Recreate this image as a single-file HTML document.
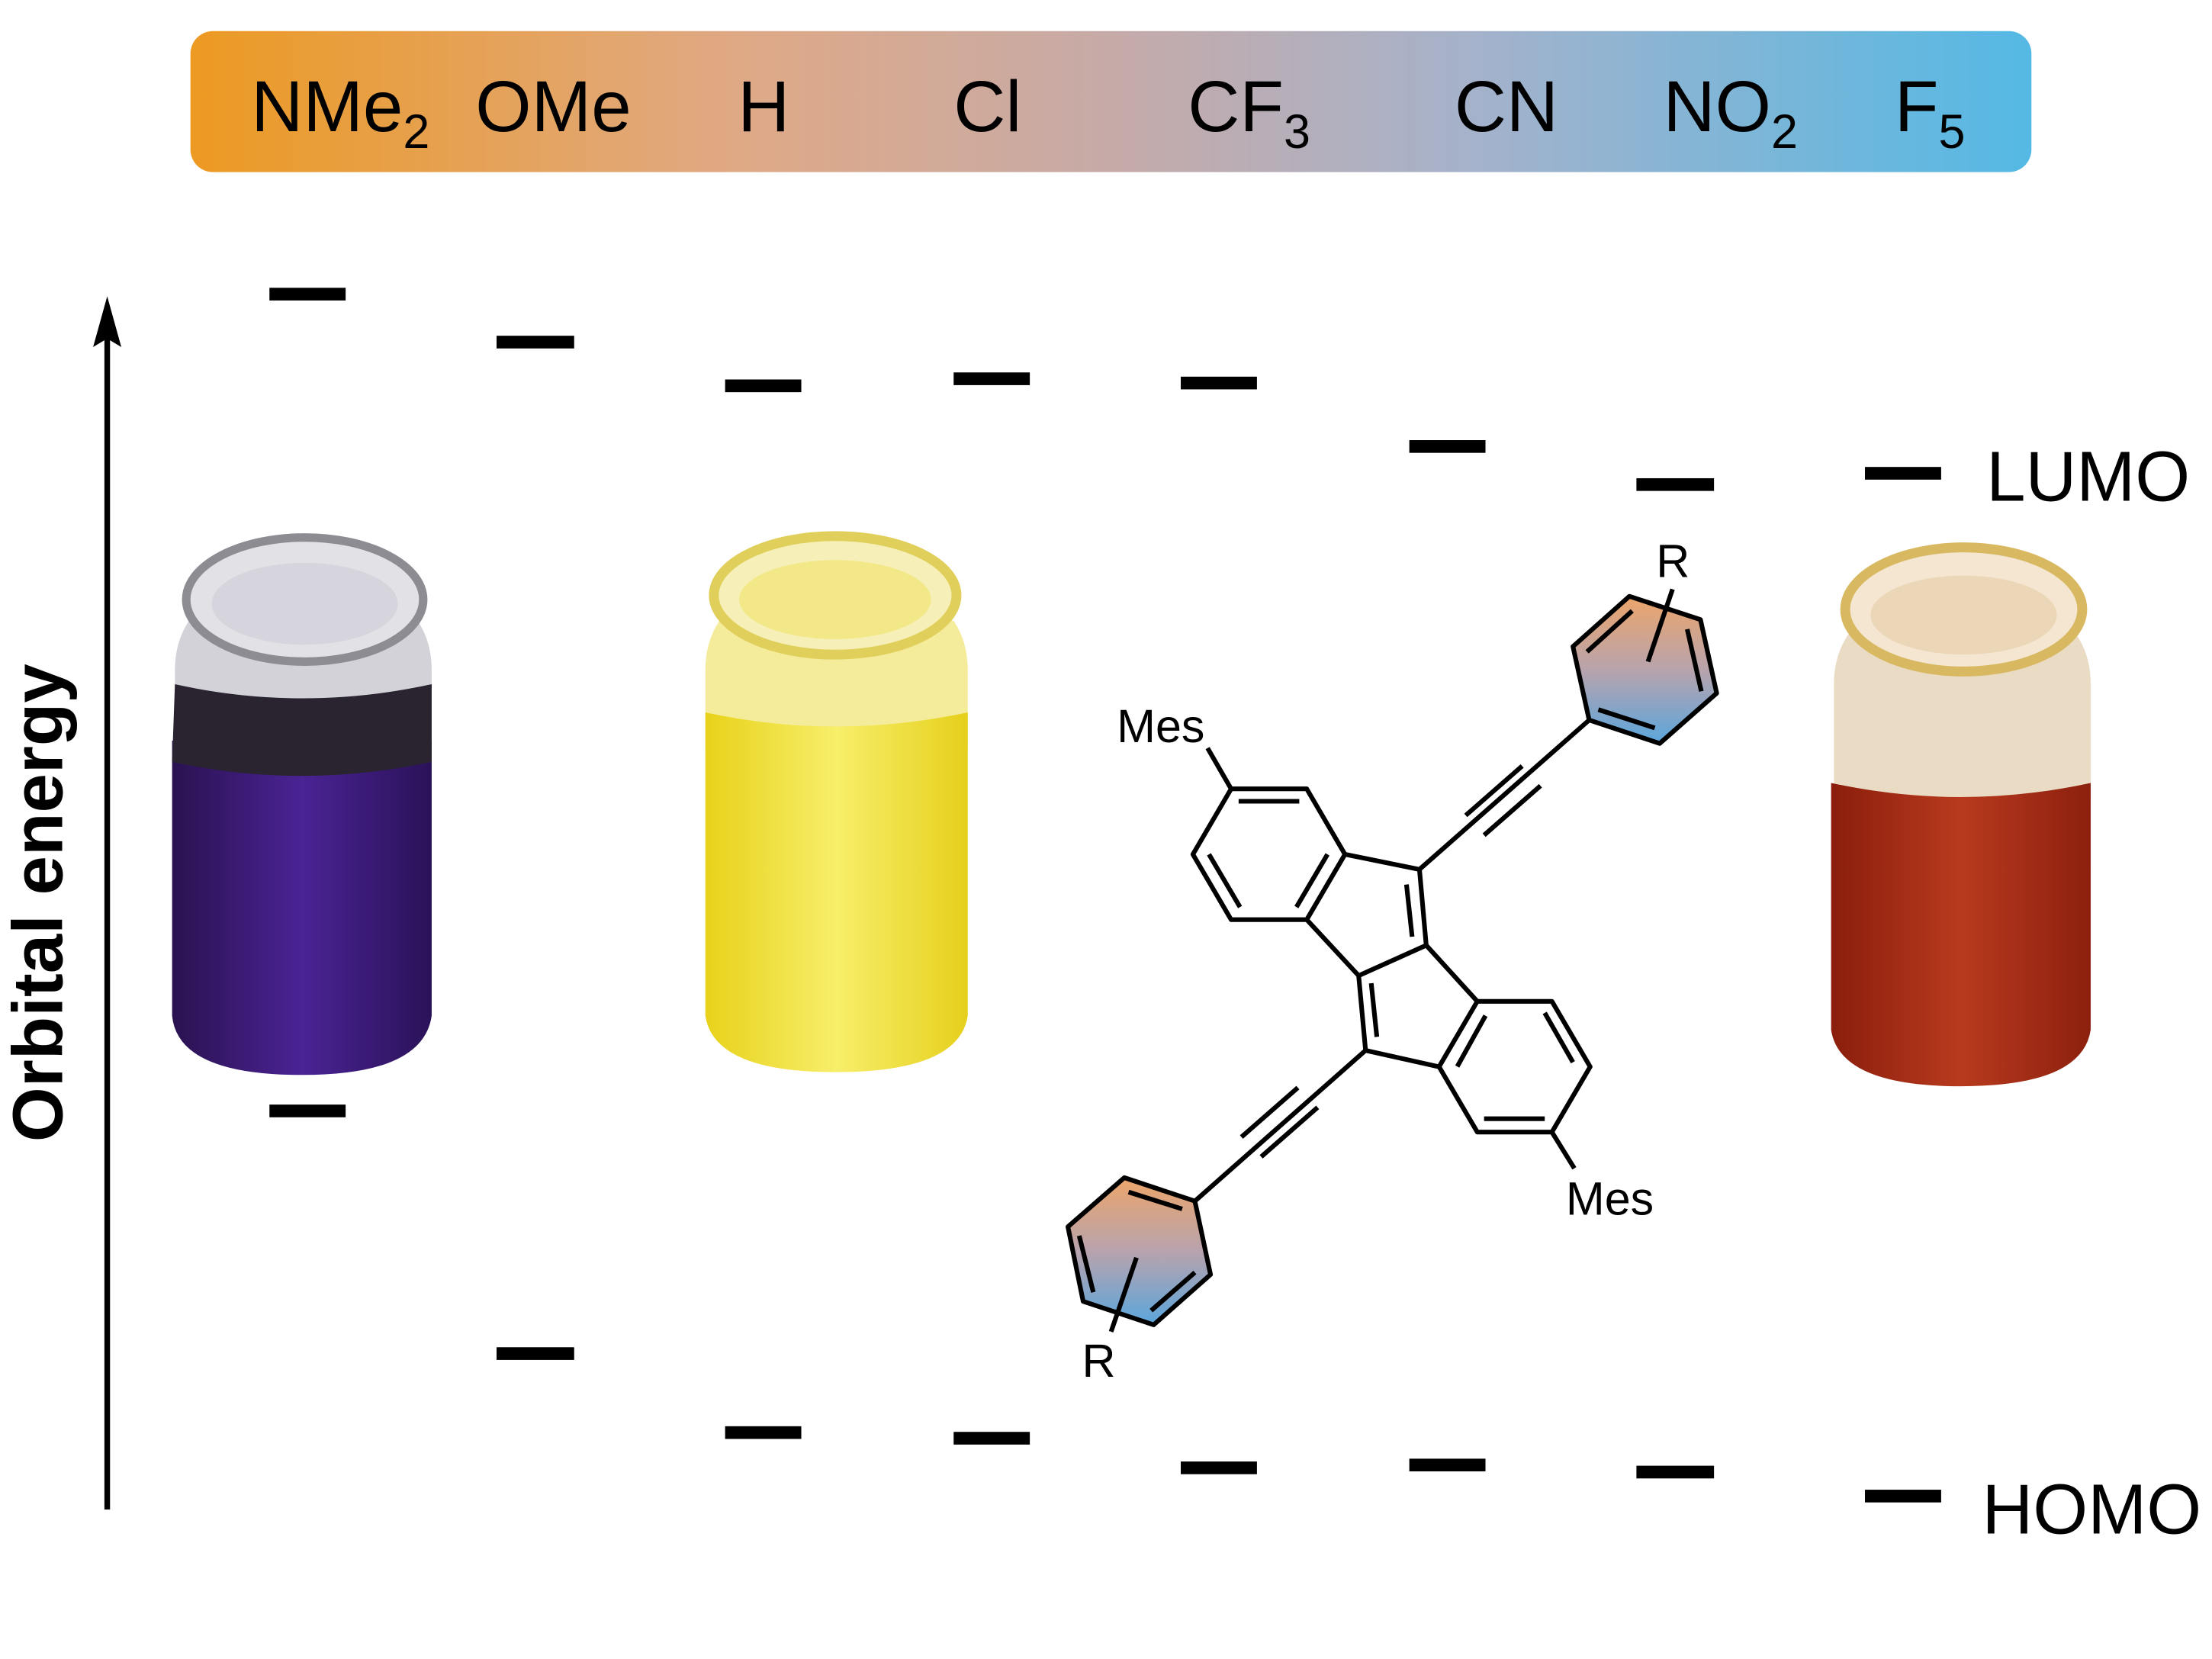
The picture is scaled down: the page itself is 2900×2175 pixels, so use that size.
<!DOCTYPE html>
<html><head><meta charset="utf-8"><style>
html,body{margin:0;padding:0;background:#fff}
svg{display:block}
text{font-family:"Liberation Sans",Arial,sans-serif}
</style></head><body>
<svg width="2900" height="2175" viewBox="0 0 1568 1176" xmlns="http://www.w3.org/2000/svg">
<defs>
<linearGradient id="bar" x1="0" x2="1" y1="0" y2="0">
<stop offset="0" stop-color="#ec9a22"/><stop offset="0.3" stop-color="#dfa986"/>
<stop offset="0.5" stop-color="#c6aaa8"/><stop offset="0.7" stop-color="#a4b2cb"/>
<stop offset="1" stop-color="#54b9e4"/></linearGradient>
<linearGradient id="ph" x1="0" x2="0" y1="0" y2="1">
<stop offset="0" stop-color="#eca56a"/><stop offset="0.5" stop-color="#b8a3ad"/><stop offset="1" stop-color="#5ba6dc"/></linearGradient>
<linearGradient id="pur" x1="0" x2="1"><stop offset="0" stop-color="#2a1250"/><stop offset="0.5" stop-color="#4a2394"/><stop offset="1" stop-color="#2a1258"/></linearGradient>
<linearGradient id="yel" x1="0" x2="1"><stop offset="0" stop-color="#e8d21a"/><stop offset="0.5" stop-color="#f7ee6a"/><stop offset="1" stop-color="#e6d01c"/></linearGradient>
<linearGradient id="red" x1="0" x2="1"><stop offset="0" stop-color="#8a1e0c"/><stop offset="0.5" stop-color="#b83a1e"/><stop offset="1" stop-color="#8c200e"/></linearGradient>
</defs>
<rect x="135" y="22" width="1305" height="100" rx="16" fill="url(#bar)"/>
<g font-size="51" fill="#000">
<text x="178" y="93">NMe<tspan font-size="34" dy="12">2</tspan></text>
<text x="337" y="93">OMe</text>
<text x="523" y="93">H</text>
<text x="676" y="93">Cl</text>
<text x="842" y="93">CF<tspan font-size="34" dy="12">3</tspan></text>
<text x="1031" y="93">CN</text>
<text x="1179" y="93">NO<tspan font-size="34" dy="12">2</tspan></text>
<text x="1343" y="93">F<tspan font-size="34" dy="12">5</tspan></text>
</g>
<!-- axis -->
<line x1="76" y1="1070" x2="76" y2="240" stroke="#000" stroke-width="4"/>
<path d="M76 210 L86 246 L76 240 L66 246 Z" fill="#000"/>
<text transform="translate(44,640) rotate(-90)" text-anchor="middle" font-size="50" font-weight="bold">Orbital energy</text>
<!-- levels -->
<g fill="#000">
<rect x="191" y="204" width="54" height="9"/><rect x="352" y="238" width="55" height="9"/>
<rect x="514" y="269" width="54" height="9"/><rect x="676" y="264" width="54" height="9"/>
<rect x="837" y="267" width="54" height="9"/><rect x="999" y="312" width="54" height="9"/>
<rect x="1160" y="339" width="55" height="9"/><rect x="1322" y="331" width="54" height="9"/>
<rect x="191" y="783" width="54" height="9"/><rect x="352" y="955" width="55" height="9"/>
<rect x="514" y="1011" width="54" height="9"/><rect x="676" y="1015" width="54" height="9"/>
<rect x="837" y="1036" width="54" height="9"/><rect x="999" y="1034" width="54" height="9"/>
<rect x="1160" y="1039" width="55" height="9"/><rect x="1322" y="1056" width="54" height="9"/>
</g>
<text x="1408" y="355" font-size="50">LUMO</text>
<text x="1405" y="1087" font-size="50">HOMO</text>
<!-- vials -->
<g>
<path d="M134 440 Q124 455 124 475 L124 520 L306 520 L306 475 Q306 455 296 440 Z" fill="#d2d2d8"/>
<path d="M122 525 Q214 545 306 525 L306 720 Q300 762 214 762 Q126 762 122 720 Z" fill="url(#pur)"/>
<path d="M124 485 Q214 505 306 485 L306 540 Q214 560 122 540 Z" fill="#2a2430"/>
<ellipse cx="216" cy="425" rx="84" ry="44" fill="#e2e2e6" stroke="#8c8c92" stroke-width="6"/>
<ellipse cx="216" cy="428" rx="66" ry="29" fill="#d6d4dc"/>
</g>
<g>
<path d="M510 440 Q500 455 500 475 L500 530 L686 530 L686 475 Q686 455 676 440 Z" fill="#f4ec9a"/>
<path d="M500 505 Q592 525 686 505 L686 720 Q680 760 592 760 Q506 760 500 720 Z" fill="url(#yel)"/>
<ellipse cx="592" cy="422" rx="86" ry="42" fill="#f6f0b8" stroke="#e0cf5a" stroke-width="7"/>
<ellipse cx="592" cy="425" rx="68" ry="28" fill="#f2e888"/>
</g>
<g>
<path d="M1310 450 Q1300 465 1300 485 L1300 570 L1482 570 L1482 485 Q1482 465 1472 450 Z" fill="#eadbc4"/>
<path d="M1298 555 Q1390 575 1482 555 L1482 730 Q1476 770 1390 770 Q1304 770 1298 730 Z" fill="url(#red)"/>
<ellipse cx="1392" cy="432" rx="84" ry="44" fill="#f4e6d0" stroke="#d8b860" stroke-width="7"/>
<ellipse cx="1392" cy="436" rx="66" ry="28" fill="#ecd6b8"/>
</g>
<!-- molecule -->
<polygon points="1126.5,510.4 1115,458.3 1155,422.7 1205.4,439.2 1216.9,491.4 1176.5,527" fill="url(#ph)"/>
<polygon points="847,851.4 797,834.8 757,869.6 767.8,922.5 817.8,939.1 858.1,903.5" fill="url(#ph)"/>
<g stroke="#000" stroke-width="3.3" fill="none" stroke-linejoin="round">
<polygon points="872.7,559.2 926.3,559.2 953.4,605.6 926.3,651.9 872.7,651.9 845.6,605.6"/>
<line x1="878" y1="568" x2="921" y2="568"/><line x1="941" y1="605.6" x2="919" y2="643"/><line x1="857" y1="605.6" x2="879" y2="643"/>
<line x1="953.4" y1="605.6" x2="1006.2" y2="616.3"/>
<polyline points="1006.2,616.3 1011,670.1 963.1,691.6 968,744.6"/>
<line x1="997" y1="627" x2="1001" y2="664"/><line x1="972" y1="697" x2="976" y2="735"/>
<line x1="926.3" y1="651.9" x2="963.1" y2="691.6"/>
<line x1="1011" y1="670.1" x2="1047.2" y2="709.8"/>
<line x1="968" y1="744.6" x2="1020.1" y2="756.2"/>
<polygon points="1047.2,709.8 1100.1,709.8 1127.2,756.2 1100.1,802.5 1047.2,802.5 1020.1,756.2"/>
<line x1="1095" y1="718" x2="1115" y2="753"/><line x1="1052" y1="793" x2="1095" y2="793"/><line x1="1033" y1="756" x2="1053" y2="720"/>
<line x1="872.7" y1="559.2" x2="856" y2="530.3"/>
<line x1="1100.1" y1="802.5" x2="1116" y2="828.2"/>
<line x1="1006.2" y1="616.3" x2="1126.5" y2="510.4"/>
<line x1="1039" y1="578" x2="1079" y2="543"/><line x1="1052" y1="592" x2="1092" y2="557"/>
<polygon points="1126.5,510.4 1115,458.3 1155,422.7 1205.4,439.2 1216.9,491.4 1176.5,527"/>
<line x1="1125" y1="462" x2="1157" y2="433"/><line x1="1196" y1="446" x2="1206" y2="490"/><line x1="1133" y1="503" x2="1173" y2="516"/>
<line x1="1168.2" y1="469" x2="1185.6" y2="417.7"/>
<line x1="968" y1="744.6" x2="847" y2="851.4"/>
<line x1="880" y1="806" x2="920" y2="771"/><line x1="894" y1="820" x2="934" y2="785"/>
<polygon points="847,851.4 797,834.8 757,869.6 767.8,922.5 817.8,939.1 858.1,903.5"/>
<line x1="800" y1="845" x2="838" y2="857"/><line x1="765" y1="876" x2="775" y2="916"/><line x1="816" y1="929" x2="847" y2="902"/>
<line x1="805.6" y1="891.5" x2="787.6" y2="944"/>
</g>
<g font-size="33">
<text x="854" y="526" text-anchor="end">Mes</text>
<text x="1110" y="861">Mes</text>
<text x="1174" y="409">R</text>
<text x="767" y="976">R</text>
</g>
</svg>
</body></html>
